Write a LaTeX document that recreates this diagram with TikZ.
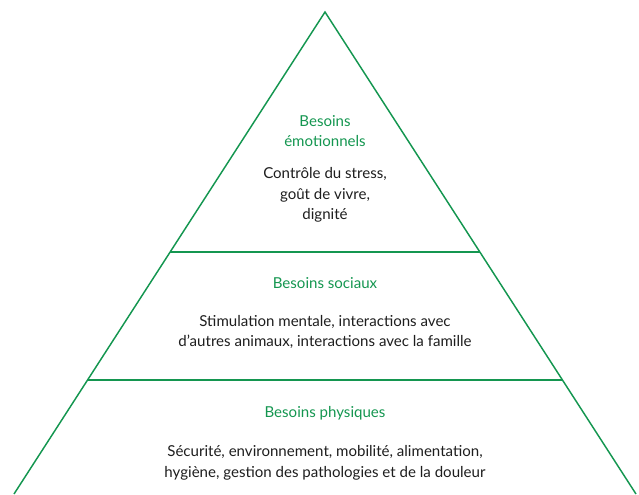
\documentclass[tikz,border=0pt]{standalone}
\usepackage{fontspec}
\setmainfont{Lato}
\definecolor{pyrgreen}{RGB}{20,150,80}
\definecolor{pyrtext}{RGB}{30,30,30}
\begin{document}
\begin{tikzpicture}[x=0.75pt,y=-0.75pt]
      \tikzstyle{level} = [draw=pyrgreen, line width=1.1pt]
      \tikzstyle{heading} = [text=pyrgreen, align=center, font=\fontsize{11.3}{15.5}\selectfont]
      \tikzstyle{needs} = [text=pyrtext, align=center, font=\fontsize{11.3}{15.5}\selectfont]

      \useasboundingbox (0,0) rectangle (639,494);

      \coordinate (apex) at (325,12);
      \coordinate (baseL) at (14,494);
      \coordinate (baseR) at (636,494);
      \coordinate (topL) at (170,252);
      \coordinate (topR) at (480,252);
      \coordinate (midL) at (88,380);
      \coordinate (midR) at (562,380);

      \draw [level] (baseL) -- (apex) -- (baseR);
      \draw [level] (topL) -- (topR);
      \draw [level] (midL) -- (midR);

      \node (emoHead) [heading] at (325,131) {Besoins\\émotionnels};
      \node (emoText) [needs] at (325,195) {Contrôle du stress,\\goût de vivre,\\dignité};
      \node (socHead) [heading] at (325,283) {Besoins sociaux};
      \node (socText) [needs] at (325,332) {Stimulation mentale, interactions avec\\d’autres animaux, interactions avec la famille};
      \node (phyHead) [heading] at (325,413) {Besoins physiques};
      \node (phyText) [needs] at (325,463) {Sécurité, environnement, mobilité, alimentation,\\hygiène, gestion des pathologies et de la douleur};
    \end{tikzpicture}
\end{document}
